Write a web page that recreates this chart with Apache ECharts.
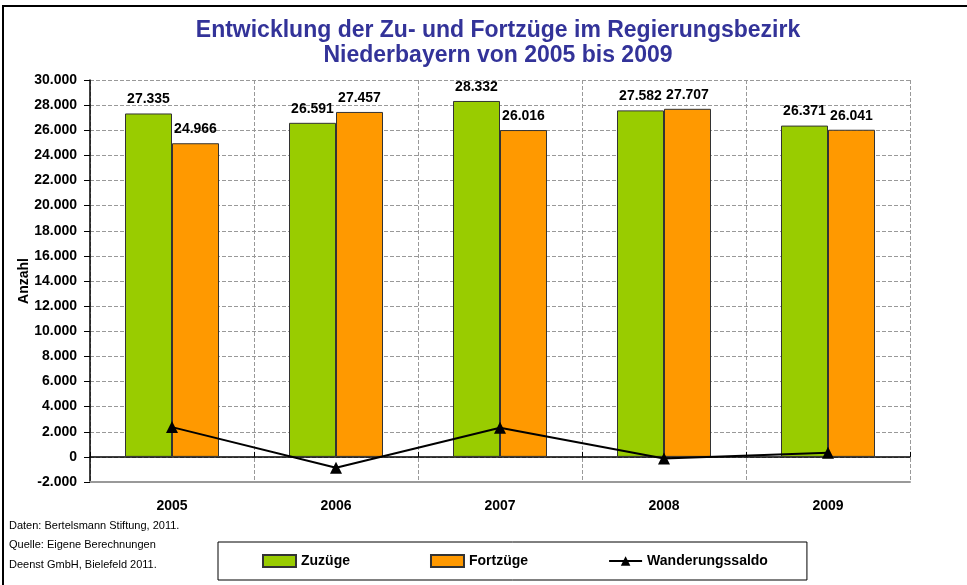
<!DOCTYPE html>
<html>
<head>
<meta charset="utf-8">
<script src="https://cdn.jsdelivr.net/npm/echarts@6/dist/echarts.min.js"></script>
<style>
  html, body { margin: 0; padding: 0; background: #fff; }
  #chart { width: 967px; height: 585px; }
</style>
</head>
<body>
<div id="chart"></div>
<script>
// Daten
var jahre = ['2005', '2006', '2007', '2008', '2009']
var zuzuege = [27335, 26591, 28332, 27582, 26371]
var fortzuege = [24966, 27457, 26016, 27707, 26041]
var saldo = [2369, -866, 2316, -125, 330]

var font = 'Arial, "Liberation Sans", sans-serif'

// 27335 -> 27.335
function fmt (v) {
  var s = Math.abs(v).toString().replace(/\B(?=(\d{3})+(?!\d))/g, '.')
  return (v < 0 ? '-' : '') + s
}

var myChart = echarts.init(document.getElementById('chart'))

var barLabel = {
  show: true,
  position: 'top',
  distance: 7,
  fontWeight: 'bold',
  fontSize: 14,
  color: '#000',
  formatter: function (p) { return fmt(p.value) }
}

var option = {
  animation: false,
  backgroundColor: '#fff',
  textStyle: { fontFamily: font },
  grid: {
    left: 90,
    right: 57,
    top: 80,
    bottom: 103
  },
  graphic: [
    {
      type: 'rect',
      shape: { x: 3, y: 6, width: 1000, height: 600 },
      style: { fill: 'none', stroke: '#000', lineWidth: 2 },
      silent: true
    },
    {
      type: 'text',
      x: 498,
      y: 18,
      style: {
        text: 'Entwicklung der Zu- und Fortzüge im Regierungsbezirk\nNiederbayern von 2005 bis 2009',
        align: 'center',
        font: 'bold 23px ' + font,
        lineHeight: 25,
        fill: '#333399'
      }
    },
    {
      type: 'text',
      x: 9,
      y: 516,
      style: {
        text: 'Daten: Bertelsmann Stiftung, 2011.\nQuelle: Eigene Berechnungen\nDeenst GmbH, Bielefeld 2011.',
        font: '11px ' + font,
        lineHeight: 19.5,
        fill: '#000'
      }
    }
  ],
  legend: {
    left: 218,
    top: 542,
    orient: 'horizontal',
    padding: [12, 39, 12, 44],
    itemGap: 80,
    itemWidth: 33,
    itemHeight: 12,
    borderColor: '#000',
    borderWidth: 1,
    textStyle: { fontWeight: 'bold', fontSize: 14, color: '#000' },
    data: [
      { name: 'Zuzüge', icon: 'rect' },
      { name: 'Fortzüge', icon: 'rect' },
      { name: 'Wanderungssaldo' }
    ]
  },
  xAxis: [
    {
      type: 'category',
      data: jahre,
      position: 'bottom',
      axisLine: { onZero: false, lineStyle: { color: '#999', width: 2 } },
      axisTick: { show: false },
      axisLabel: { margin: 17, fontWeight: 'bold', fontSize: 14, color: '#000' },
      splitLine: { show: true, lineStyle: { color: '#999', type: 'dashed', width: 1 } }
    },
    {
      type: 'category',
      data: jahre,
      position: 'bottom',
      axisLine: { onZero: true, lineStyle: { color: '#000', width: 1.5 } },
      axisTick: { show: true, inside: true, length: 5, lineStyle: { color: '#000' } },
      axisLabel: { show: false },
      splitLine: { show: false }
    }
  ],
  yAxis: {
    type: 'value',
    min: -2000,
    max: 30000,
    interval: 2000,
    name: 'Anzahl',
    nameLocation: 'middle',
    nameRotate: 90,
    nameGap: 59,
    nameMoveOverlap: false,
    nameTextStyle: { fontWeight: 'bold', fontSize: 14, color: '#000' },
    axisLine: { show: true, lineStyle: { color: '#000', width: 1.5 } },
    axisTick: { show: true, length: 6, lineStyle: { color: '#000' } },
    axisLabel: {
      fontWeight: 'bold',
      fontSize: 14,
      color: '#000',
      margin: 13,
      formatter: function (v) { return fmt(v) }
    },
    splitLine: { show: true, lineStyle: { color: '#999', type: 'dashed', width: 1 } }
  },
  series: [
    {
      name: 'Zuzüge',
      type: 'bar',
      data: zuzuege,
      barWidth: 47,
      barGap: '0%',
      itemStyle: { color: '#99CC00', borderColor: '#333', borderWidth: 1 },
      label: barLabel
    },
    {
      name: 'Fortzüge',
      type: 'bar',
      data: fortzuege,
      barWidth: 47,
      barGap: '0%',
      itemStyle: { color: '#FF9900', borderColor: '#333', borderWidth: 1 },
      label: barLabel
    },
    {
      name: 'Wanderungssaldo',
      type: 'line',
      data: saldo,
      z: 5,
      symbol: 'triangle',
      symbolSize: 12,
      lineStyle: { color: '#000', width: 2 },
      itemStyle: { color: '#000' }
    }
  ]
}

myChart.setOption(option)
</script>
</body>
</html>
